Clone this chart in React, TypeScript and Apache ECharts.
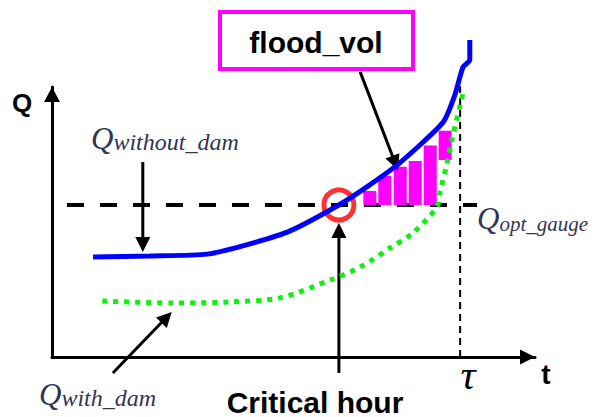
import React, { useEffect, useRef } from 'react';
import * as echarts from 'echarts';

// Q without dam (blue curve)
const T_WITHOUT = [8.5, 20.3, 32.1, 41.0, 49.3, 59.4, 65.2, 72.0, 81.0, 83.4, 85.1, 86.5, 86.5];
const Q_WITHOUT = [37.0, 37.4, 38.1, 41.9, 46.7, 56.3, 63.0, 71.9, 87.0, 97.0, 107.4, 110.0, 117.4];
// Q with dam (green dotted curve)
const T_WITH = [10.4, 25.1, 36.9, 47.2, 57.6, 63.8, 70.0, 74.7, 79.7, 80.3, 81.8, 82.8, 85.1];
const Q_WITH = [20.7, 20.0, 20.4, 21.9, 28.5, 33.3, 40.4, 45.9, 55.6, 60.7, 71.9, 80.4, 97.8];
// flood volume slices
const FLOOD_T = [65.8, 68.9, 72.1, 75.2, 78.3, 81.4];
const FLOOD_LOW = [56.3, 56.3, 56.3, 56.3, 56.3, 73.0];
const FLOOD_HIGH = [61.5, 67.1, 70.5, 72.6, 78.3, 83.8];
const FLOOD_WIDTH = 2.7;
// reference levels / times
const Q_OPT = 56.3;
const Q_OPT_FROM = 3.1;
const Q_OPT_TO = 88.0;
const CRITICAL_T = 59.4;
const TAU_T = 84.5;
const TAU_TOP = 100.7;
// annotation arrows [t0, q0, t1, q1] (tip at t1,q1)
const ARROWS = [
  [18.8, 72.2, 18.8, 38.9],
  [12.6, -5.9, 24.8, 16.7],
  [63.8, 105.6, 71.6, 69.3],
  [CRITICAL_T, -5.9, CRITICAL_T, 49.6],
];

const LABEL_COLOR = '#333355';

export default function App() {
  const ref = useRef<HTMLDivElement>(null);
  useEffect(() => {
    const chart = echarts.init(ref.current!, null, { renderer: 'svg' });

    const arrowItem = (params: any, api: any) => {
      const p0 = api.coord([api.value(0), api.value(1)]);
      const p1 = api.coord([api.value(2), api.value(3)]);
      const dx = p1[0] - p0[0];
      const dy = p1[1] - p0[1];
      const len = Math.hypot(dx, dy);
      const ux = dx / len;
      const uy = dy / len;
      const L = 15;
      const W = 15;
      const bx = p1[0] - ux * L;
      const by = p1[1] - uy * L;
      return {
        type: 'group',
        children: [
          {
            type: 'line',
            shape: { x1: p0[0], y1: p0[1], x2: bx + ux * 3, y2: by + uy * 3 },
            style: { stroke: '#000', lineWidth: 3 },
          },
          {
            type: 'polygon',
            shape: {
              points: [
                [p1[0], p1[1]],
                [bx - (uy * W) / 2, by + (ux * W) / 2],
                [bx + (uy * W) / 2, by - (ux * W) / 2],
              ],
            },
            style: { fill: '#000' },
          },
        ],
      };
    };

    const dashedItem = (dash: number[], width: number) => (params: any, api: any) => {
      const p0 = api.coord([api.value(0), api.value(1)]);
      const p1 = api.coord([api.value(2), api.value(3)]);
      return {
        type: 'line',
        shape: { x1: p0[0], y1: p0[1], x2: p1[0], y2: p1[1] },
        style: { stroke: '#000', lineWidth: width, lineDash: dash },
      };
    };

    const option: any = {
      animation: false,
      backgroundColor: '#fff',
      grid: { left: 52, right: 59, top: 87, bottom: 60 },
      xAxis: {
        type: 'value',
        min: 0,
        max: 100,
        axisLine: {
          show: true,
          lineStyle: { color: '#000', width: 3 },
          symbol: ['none', 'triangle'],
          symbolSize: [15, 15],
          symbolOffset: [0, -7.5],
        },
        axisTick: { show: false },
        axisLabel: { show: false },
        splitLine: { show: false },
      },
      yAxis: {
        type: 'value',
        min: 0,
        max: 100,
        axisLine: {
          show: true,
          lineStyle: { color: '#000', width: 3 },
          symbol: ['none', 'triangle'],
          symbolSize: [16, 15],
          symbolOffset: [0, -7.5],
        },
        axisTick: { show: false },
        axisLabel: { show: false },
        splitLine: { show: false },
      },
      series: [
        {
          type: 'custom',
          name: 'Q_opt_gauge',
          clip: false,
          encode: { x: [0, 2], y: [1, 3] },
          data: [[Q_OPT_FROM, Q_OPT, Q_OPT_TO, Q_OPT]],
          renderItem: dashedItem([17, 16], 4),
        },
        {
          type: 'custom',
          name: 'tau',
          clip: false,
          encode: { x: [0, 2], y: [1, 3] },
          data: [[TAU_T, 0, TAU_T, TAU_TOP]],
          renderItem: dashedItem([7, 5], 2),
        },
        {
          type: 'custom',
          name: 'flood_vol',
          clip: false,
          encode: { x: 0, y: [1, 2] },
          data: FLOOD_T.map((t, i) => [t, FLOOD_LOW[i], FLOOD_HIGH[i]]),
          renderItem: (params: any, api: any) => {
            const t = api.value(0);
            const top = api.coord([t, api.value(2)]);
            const bot = api.coord([t, api.value(1)]);
            const w = api.size([FLOOD_WIDTH, 0])[0];
            return {
              type: 'rect',
              shape: { x: top[0] - w / 2, y: top[1], width: w, height: bot[1] - top[1] },
              style: { fill: '#ff00ff' },
            };
          },
        },
        {
          type: 'line',
          name: 'Q_with_dam',
          clip: false,
          showSymbol: false,
          smooth: 0.3,
          data: T_WITH.map((t, i) => [t, Q_WITH[i]]),
          lineStyle: { color: '#11ee11', width: 5, type: [5, 6] },
        },
        {
          type: 'line',
          name: 'Q_without_dam',
          clip: false,
          showSymbol: false,
          smooth: 0.2,
          data: T_WITHOUT.map((t, i) => [t, Q_WITHOUT[i]]),
          lineStyle: { color: '#0000ff', width: 5 },
        },
        {
          type: 'scatter',
          name: 'critical',
          clip: false,
          symbol: 'circle',
          symbolSize: 30,
          data: [[CRITICAL_T, Q_OPT]],
          itemStyle: { color: 'rgba(0,0,0,0)', borderColor: '#ff0000', borderWidth: 5 },
        },
        {
          type: 'custom',
          name: 'arrows',
          clip: false,
          encode: { x: [0, 2], y: [1, 3] },
          data: ARROWS,
          renderItem: arrowItem,
        },
      ],
      graphic: [
        {
          type: 'rect',
          shape: { x: 220, y: 12, width: 193, height: 57 },
          style: { fill: '#fff', stroke: '#ff00ff', lineWidth: 4 },
        },
        {
          type: 'text',
          x: 316,
          y: 42,
          style: {
            text: 'flood_vol',
            fill: '#000',
            fontFamily: 'Liberation Sans',
            fontWeight: 'bold',
            fontSize: 30,
            align: 'center',
            verticalAlign: 'middle',
          },
        },
        {
          type: 'text',
          x: 22,
          y: 103,
          style: {
            text: 'Q',
            fill: '#000',
            fontFamily: 'Liberation Sans',
            fontWeight: 'bold',
            fontSize: 26,
            align: 'center',
            verticalAlign: 'middle',
          },
        },
        {
          type: 'text',
          x: 546,
          y: 374,
          style: {
            text: 't',
            fill: '#000',
            fontFamily: 'Liberation Sans',
            fontWeight: 'bold',
            fontSize: 28,
            align: 'center',
            verticalAlign: 'middle',
          },
        },
        {
          type: 'text',
          x: 468,
          y: 375,
          style: {
            text: 'τ',
            fill: '#000',
            fontFamily: 'Liberation Serif',
            fontStyle: 'italic',
            fontSize: 42,
            align: 'center',
            verticalAlign: 'middle',
          },
        },
        {
          type: 'text',
          x: 315,
          y: 402,
          style: {
            text: 'Critical hour',
            fill: '#000',
            fontFamily: 'Liberation Sans',
            fontWeight: 'bold',
            fontSize: 30,
            align: 'center',
            verticalAlign: 'middle',
          },
        },
        ...[
          { x: 91, y: 154, sub: 'without_dam', size: 24 },
          { x: 477, y: 234, sub: 'opt_gauge', size: 21 },
          { x: 39, y: 410, sub: 'with_dam', size: 24 },
        ].map((l) => ({
          type: 'text',
          x: l.x,
          y: l.y,
          style: {
            text: '{q|Q}{s|' + l.sub + '}',
            align: 'left',
            verticalAlign: 'bottom',
            rich: {
              q: {
                fontFamily: 'Liberation Serif',
                fontStyle: 'italic',
                fontSize: 31,
                fill: LABEL_COLOR,
                verticalAlign: 'bottom',
              },
              s: {
                fontFamily: 'Liberation Serif',
                fontStyle: 'italic',
                fontSize: l.size,
                fill: LABEL_COLOR,
                verticalAlign: 'bottom',
              },
            },
          },
        })),
      ],
    };
    chart.setOption(option);
    return () => chart.dispose();
  }, []);
  return (
    <div
      ref={ref}
      style={{ position: 'absolute', left: 0, top: 0, width: 594, height: 417, background: '#fff' }}
    />
  );
}
